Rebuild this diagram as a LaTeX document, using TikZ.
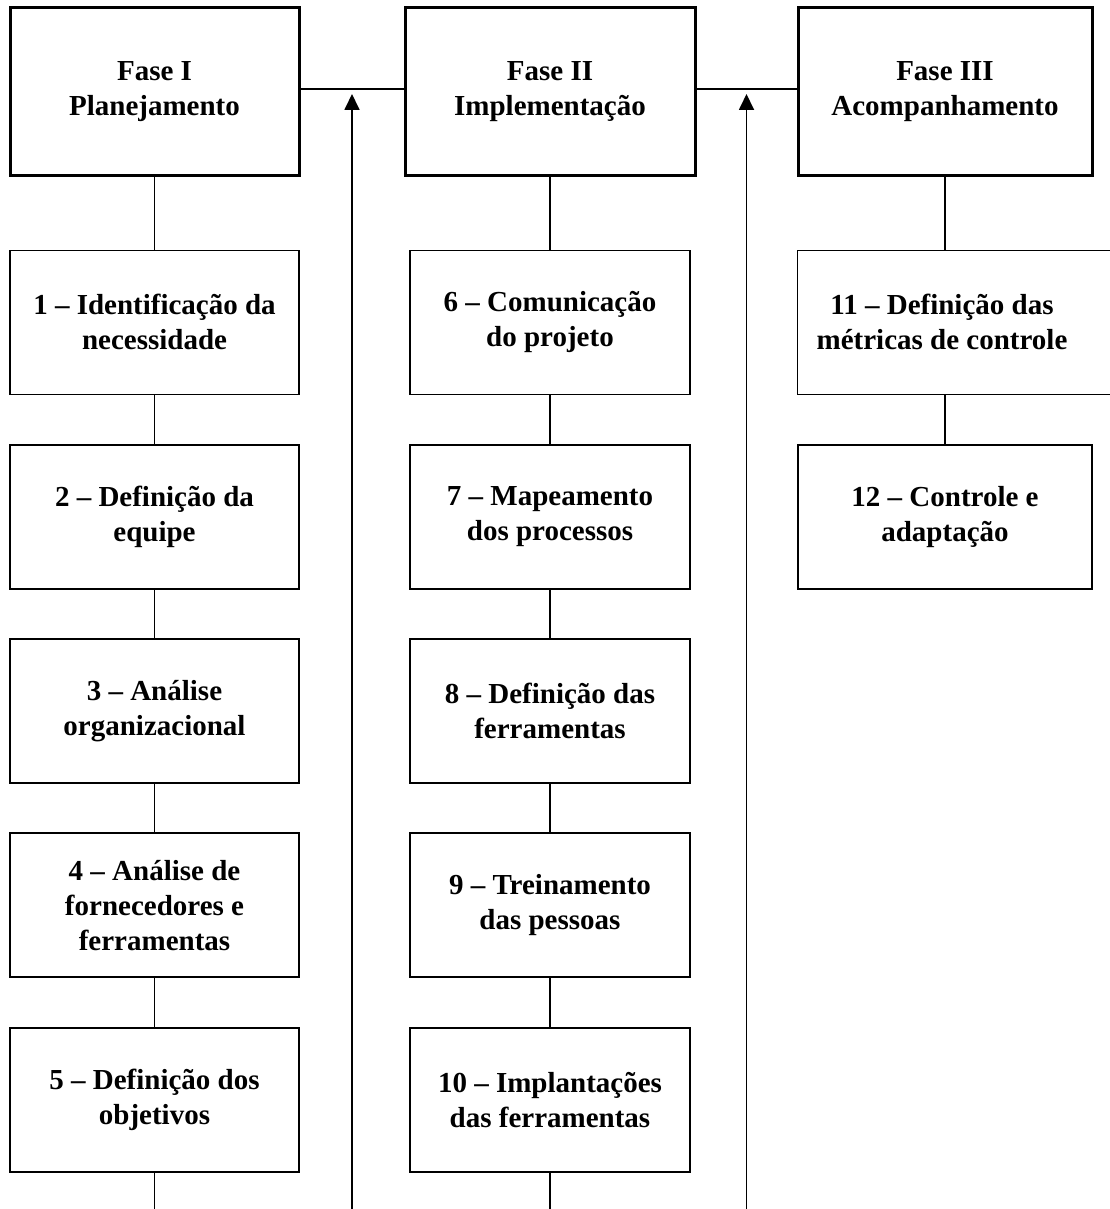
\documentclass[tikz,border=0pt]{standalone}
\usepackage{fontspec}
\setmainfont{Liberation Serif}
\usetikzlibrary{arrows.meta,positioning,calc}

\begin{document}
\begin{tikzpicture}[
		font=\fontsize{29}{35}\selectfont\bfseries,
		node distance=48.5pt and 103pt,
		every node/.style={align=center},
		phase/.style={rectangle, draw, line width=3pt, fill=white,
				minimum width=289pt, minimum height=168pt, inner sep=3pt},
		stepbox/.style={rectangle, draw, line width=1.8pt, fill=white,
				minimum width=289pt, minimum height=144pt, inner sep=3pt},
		link/.style={line width=1.8pt},
		arr/.style={-{Triangle[length=16pt, width=15pt]}, line width=1.8pt},
		]
		\useasboundingbox (0,0) rectangle (1109pt,-1209pt);

		% fases
		\node[phase] (p1) at (154.5pt,-92pt) {Fase I \\ Planejamento};
		\node[phase, right=103pt of p1, minimum width=290pt] (p2) {Fase II \\ Implementação};
		\node[phase, right=100pt of p2, minimum width=294pt] (p3) {Fase III \\ Acompanhamento};

		% fase I
		\node[stepbox, below=72pt of p1] (s1) {1 – Identificação da \\ necessidade};
		\node[stepbox, below=of s1] (s2) {2 – Definição da \\ equipe};
		\node[stepbox, below=of s2] (s3) {3 – Análise \\ organizacional};
		\node[stepbox, below=of s3] (s4) {4 – Análise de \\ fornecedores e \\ ferramentas};
		\node[stepbox, below=of s4] (s5) {5 – Definição dos \\ objetivos};

		% fase II
		\node[stepbox, below=72pt of p2, minimum width=280pt] (s6) {6 – Comunicação \\ do projeto};
		\node[stepbox, below=of s6, minimum width=280pt] (s7) {7 – Mapeamento \\ dos processos};
		\node[stepbox, below=of s7, minimum width=280pt] (s8) {8 – Definição das \\ ferramentas};
		\node[stepbox, below=of s8, minimum width=280pt] (s9) {9 – Treinamento \\ das pessoas};
		\node[stepbox, below=of s9, minimum width=280pt] (s10) {10 – Implantações \\ das ferramentas};

		% fase III
		\node[stepbox, anchor=north west, minimum width=340pt] (s11)
		at ([yshift=-72pt]p3.south west) {};
		\node (s11txt) at ([xshift=-3pt]p3 |- s11) {11 – Definição das \\ métricas de controle};
		\node[stepbox, anchor=north, minimum width=294pt] (s12)
		at ([yshift=-48.5pt]p3 |- s11.south) {12 – Controle e \\ adaptação};

		\coordinate (end1) at (s5 |- 0,-1209pt);
		\coordinate (end2) at (s10 |- 0,-1209pt);
		\coordinate (j1) at ($(p1.east)!0.5!(p2.west)$);
		\coordinate (j2) at ($(p2.east)!0.5!(p3.west)$);
		\coordinate (a1) at (j1 |- end1);
		\coordinate (a2) at (j2 |- end1);

		\draw[link] ([yshift=3pt]p1.east) -- ([yshift=3pt]p2.west);
		\draw[link] ([yshift=3pt]p2.east) -- ([yshift=3pt]p3.west);
		\draw[link] (p1) -- (s1);
		\draw[link] (s1) -- (s2);
		\draw[link] (s2) -- (s3);
		\draw[link] (s3) -- (s4);
		\draw[link] (s4) -- (s5);
		\draw[link] (s5) -- (end1);
		\draw[link] (p2) -- (s6);
		\draw[link] (s6) -- (s7);
		\draw[link] (s7) -- (s8);
		\draw[link] (s8) -- (s9);
		\draw[link] (s9) -- (s10);
		\draw[link] (s10) -- (end2);
		\draw[link] (p3) -- (p3 |- s11.north);
		\draw[link] (p3 |- s11.south) -- (s12);
		\draw[arr] (a1) -- ([yshift=-2pt]j1);
		\draw[arr] (a2) -- ([yshift=-2pt]j2);

	\end{tikzpicture}
\end{document}
